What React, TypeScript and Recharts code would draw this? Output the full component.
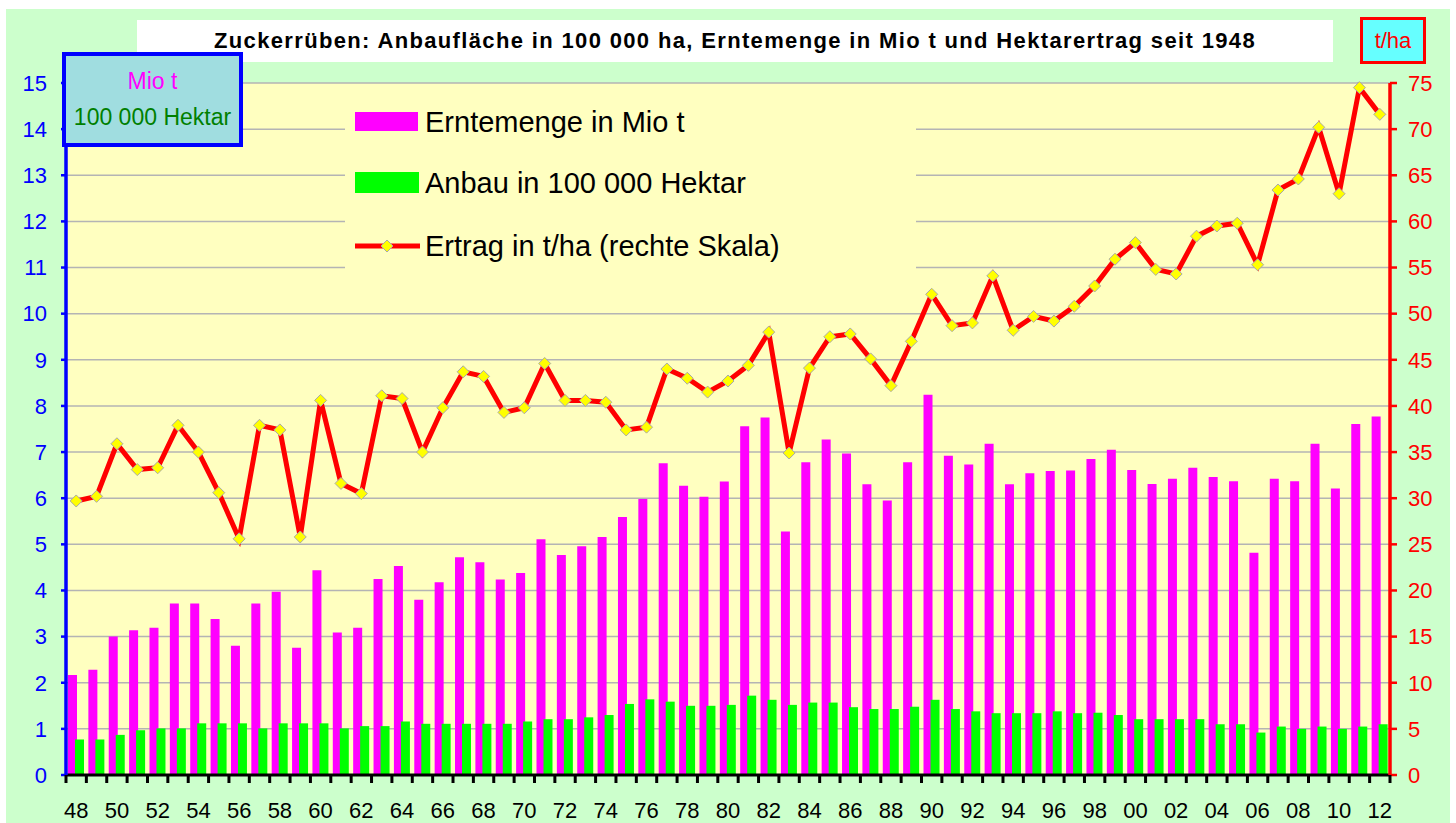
import React from 'react';
import { ComposedChart, Bar, Line, XAxis, YAxis, CartesianGrid, Legend } from 'recharts';

const years = ['48','49','50','51','52','53','54','55','56','57','58','59','60','61','62','63','64','65','66','67','68','69','70','71','72','73','74','75','76','77','78','79','80','81','82','83','84','85','86','87','88','89','90','91','92','93','94','95','96','97','98','99','00','01','02','03','04','05','06','07','08','09','10','11','12'];

const erntemenge = [2.17,2.28,3.00,3.14,3.19,3.72,3.72,3.38,2.80,3.72,3.97,2.76,4.44,3.09,3.19,4.25,4.53,3.80,4.18,4.72,4.61,4.24,4.38,5.11,4.77,4.96,5.16,5.59,5.98,6.76,6.27,6.03,6.36,7.56,7.75,5.28,6.78,7.27,6.97,6.30,5.95,6.78,8.24,6.92,6.73,7.18,6.30,6.54,6.59,6.60,6.85,7.05,6.61,6.31,6.42,6.66,6.46,6.37,4.82,6.42,6.37,7.18,6.21,7.61,7.77];

const anbau = [0.77,0.77,0.87,0.97,1.01,1.01,1.12,1.12,1.12,1.01,1.12,1.12,1.12,1.01,1.06,1.06,1.16,1.11,1.11,1.11,1.11,1.11,1.16,1.21,1.21,1.25,1.30,1.54,1.64,1.59,1.50,1.50,1.52,1.72,1.63,1.52,1.57,1.57,1.47,1.43,1.43,1.48,1.63,1.43,1.38,1.34,1.34,1.34,1.38,1.34,1.35,1.30,1.21,1.21,1.21,1.21,1.10,1.10,0.92,1.05,1.00,1.05,1.00,1.05,1.10];

const ertrag = [29.7,30.2,35.9,33.1,33.3,37.9,35.0,30.6,25.6,37.9,37.4,25.8,40.6,31.6,30.5,41.1,40.8,35.0,39.8,43.7,43.2,39.3,39.8,44.6,40.6,40.6,40.4,37.4,37.7,44.0,43.0,41.5,42.7,44.4,48.0,34.9,44.1,47.5,47.8,45.1,42.2,47.0,52.1,48.7,49.0,54.1,48.2,49.7,49.2,50.8,53.0,55.9,57.7,54.8,54.3,58.4,59.5,59.8,55.3,63.4,64.6,70.2,63.0,74.5,71.6];

const leftTicks = [0,1,2,3,4,5,6,7,8,9,10,11,12,13,14,15];
const rightTicks = [0,5,10,15,20,25,30,35,40,45,50,55,60,65,70,75];
const xLabelYears = ['48','50','52','54','56','58','60','62','64','66','68','70','72','74','76','78','80','82','84','86','88','90','92','94','96','98','00','02','04','06','08','10','12'];

const seriesNames = {
  ernte: 'Erntemenge in Mio t',
  anbau: 'Anbau in 100 000 Hektar',
  ertrag: 'Ertrag in t/ha (rechte Skala)',
};

const data = years.map((y, i) => ({ year: y, ernte: erntemenge[i], anbau: anbau[i], ertrag: ertrag[i] }));

const FONT = '"Liberation Sans", Arial, sans-serif';
const W = 1456;
const H = 823;
const PLOT_LEFT = 66;
const PLOT_RIGHT = 1390;
const BAND = (PLOT_RIGHT - PLOT_LEFT) / years.length;
const TICK_SIZE = 6;
const TICK_MARGIN = 2;

const XTick = (props: any) => {
  const { x, y, payload } = props;
  const axisY = y - TICK_SIZE - TICK_MARGIN;
  const show = xLabelYears.includes(payload.value);
  const isLast = payload.value === years[years.length - 1];
  return (
    <g>
      <line x1={x - BAND / 2} x2={x - BAND / 2} y1={axisY} y2={axisY + 8} stroke="#000" strokeWidth={3} />
      {isLast && (
        <line x1={x + BAND / 2} x2={x + BAND / 2} y1={axisY} y2={axisY + 8} stroke="#000" strokeWidth={3} />
      )}
      {show && (
        <text x={x} y={axisY + 43} textAnchor="middle" fill="#000" fontSize={22} fontFamily={FONT}>
          {payload.value}
        </text>
      )}
    </g>
  );
};

const Diamond = (props: any) => {
  const { cx, cy } = props;
  if (cx == null || cy == null) return null;
  const r = 6;
  return (
    <path
      d={`M${cx},${cy - r} L${cx + r},${cy} L${cx},${cy + r} L${cx - r},${cy} Z`}
      fill="#FFFF00"
      stroke="#A8A8A8"
      strokeWidth={1}
    />
  );
};

const LegendContent = () => (
  <div style={{ width: 571, height: 210, background: '#FFFFC0', position: 'relative' }}>
    <svg width={571} height={210} style={{ position: 'absolute', left: 0, top: 0 }}>
      <rect x={10} y={22} width={63} height={19} fill="#FF00FF" />
      <text x={80} y={42} fontSize={29} fontFamily={FONT} fill="#000">{seriesNames.ernte}</text>
      <rect x={10} y={82} width={64} height={21} fill="#00FF00" />
      <text x={80} y={103} fontSize={29} fontFamily={FONT} fill="#000">{seriesNames.anbau}</text>
      <line x1={10} x2={75} y1={156} y2={156} stroke="#FF0000" strokeWidth={5} />
      <path d="M42,150 L48,156 L42,162 L36,156 Z" fill="#FFFF00" stroke="#A8A8A8" strokeWidth={1} />
      <text x={80} y={166} fontSize={29} fontFamily={FONT} fill="#000">{seriesNames.ertrag}</text>
    </svg>
  </div>
);

export default function App() {
  return (
    <div style={{ position: 'absolute', left: 0, top: 0, width: W, height: H, background: '#FFFFFF', overflow: 'hidden', fontFamily: FONT }}>
      <div style={{ position: 'absolute', left: 6, top: 9, width: 1444, height: 814, background: '#CCFFCC' }} />
      <div style={{ position: 'absolute', left: 0, top: 0 }}>
        <ComposedChart
          width={W}
          height={H}
          data={data}
          margin={{ top: 83, right: 16, bottom: 8, left: 20 }}
          barGap={-2}
        >
          <CartesianGrid yAxisId="left" vertical={false} horizontal stroke="#B4B4B4" strokeWidth={1.5} fill="#FFFFC0" />
          <XAxis
            dataKey="year"
            interval={0}
            height={40}
            tick={<XTick />}
            tickLine={false}
            tickSize={TICK_SIZE}
            tickMargin={TICK_MARGIN}
            axisLine={{ stroke: '#000', strokeWidth: 3 }}
          />
          <YAxis
            yAxisId="left"
            orientation="left"
            width={46}
            domain={[0, 15]}
            ticks={leftTicks}
            interval={0}
            tickSize={5}
            tickMargin={14}
            tick={{ fill: '#0000FF', fontSize: 22, fontFamily: FONT }}
            tickLine={{ stroke: '#0000FF', strokeWidth: 2.5 }}
            axisLine={{ stroke: '#0000FF', strokeWidth: 3.5 }}
          />
          <YAxis
            yAxisId="right"
            orientation="right"
            width={50}
            domain={[0, 75]}
            ticks={rightTicks}
            interval={0}
            tickSize={7}
            tickMargin={11}
            tick={{ fill: '#FF0000', fontSize: 22, fontFamily: FONT }}
            tickLine={{ stroke: '#FF0000', strokeWidth: 2.5 }}
            axisLine={{ stroke: '#FF0000', strokeWidth: 3.5 }}
          />
          <Legend
            layout="vertical"
            align="center"
            verticalAlign="middle"
            content={<LegendContent />}
            wrapperStyle={{ position: 'absolute', left: 345, top: 90, width: 571, height: 210 }}
          />
          <Bar yAxisId="left" dataKey="ernte" name={seriesNames.ernte} fill="#FF00FF" barSize={9} isAnimationActive={false} />
          <Bar yAxisId="left" dataKey="anbau" name={seriesNames.anbau} fill="#00FF00" barSize={9} isAnimationActive={false} />
          <Line
            yAxisId="right"
            type="linear"
            dataKey="ertrag"
            name={seriesNames.ertrag}
            stroke="#FF0000"
            strokeWidth={5}
            dot={<Diamond />}
            activeDot={false}
            isAnimationActive={false}
          />
        </ComposedChart>
      </div>
      <div style={{ position: 'absolute', left: 137, top: 20, width: 1196, height: 42, background: '#FFFFFF', display: 'flex', alignItems: 'center', justifyContent: 'center' }}>
        <span style={{ fontWeight: 'bold', fontSize: 22, color: '#000', fontFamily: FONT, letterSpacing: 1.35, whiteSpace: 'nowrap' }}>
          Zuckerrüben: Anbaufläche in 100 000 ha, Erntemenge in Mio t und Hektarertrag seit 1948
        </span>
      </div>
      <div style={{ position: 'absolute', left: 62, top: 52, width: 181, height: 95, boxSizing: 'border-box', border: '4px solid #0000FF', background: '#A0DDE0', textAlign: 'center', fontFamily: FONT, fontSize: 23 }}>
        <div style={{ color: '#FF00FF', marginTop: 12, lineHeight: '26px' }}>Mio t</div>
        <div style={{ color: '#008000', marginTop: 10, lineHeight: '26px', whiteSpace: 'nowrap' }}>100 000 Hektar</div>
      </div>
      <div style={{ position: 'absolute', left: 1360, top: 17, width: 66, height: 47, boxSizing: 'border-box', border: '3px solid #FF0000', background: '#66FFFF', display: 'flex', alignItems: 'center', justifyContent: 'center', fontFamily: FONT, fontSize: 22, color: '#FF0000' }}>
        t/ha
      </div>
    </div>
  );
}
